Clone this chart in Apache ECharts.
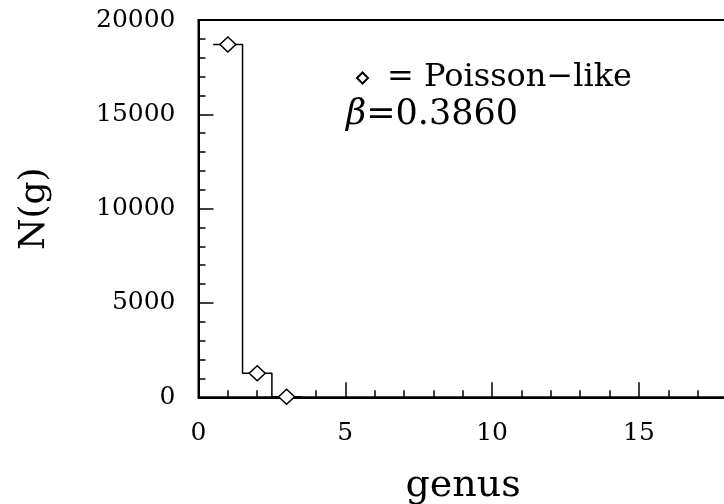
<!DOCTYPE html>
<html>
<head>
<meta charset="utf-8">
<script src="https://cdn.jsdelivr.net/npm/echarts@6/dist/echarts.min.js"></script>
<style>
  html, body { margin: 0; padding: 0; background: #fff; }
  #chart { width: 724px; height: 504px; }
</style>
</head>
<body>
<div id="chart"></div>
<script>
// genus number and how many objects have it
const genus = [1, 2, 3];
const counts = [18700, 1270, 30];
const binHalf = 0.5;
const xRange = [0, 20];
const yRange = [0, 20000];
const legendName = 'Poisson−like';
const betaValue = '0.3860';

const font = 'DejaVu Serif';
const ink = '#000';

const myechart = echarts.init(document.getElementById('chart'));

// histogram outline: one point per bin edge, drawn as steps
let steps = [];
for (let i = 0; i < genus.length; i++) {
  steps.push([genus[i] - binHalf, counts[i]]);
}
steps.push([genus[genus.length - 1] + binHalf, counts[counts.length - 1]]);

let points = genus.map((g, i) => [g, counts[i]]);

let option = {
  animation: false,
  backgroundColor: '#fff',
  grid: {
    left: 198.5,
    top: 20,
    right: -61.7,
    bottom: 106.7,
    outerBoundsMode: 'none',
    show: true,
    borderColor: ink,
    borderWidth: 2
  },
  legend: {
    left: 351,
    top: 57,
    icon: 'diamond',
    itemWidth: 11,
    itemHeight: 11,
    formatter: '= {name}',
    textStyle: { fontFamily: font, fontSize: 32, color: ink, padding: [0, 0, 0, 14] },
    data: [legendName]
  },
  graphic: [{
    type: 'text',
    left: 346,
    top: 97,
    style: {
      text: '{b|β}=' + betaValue,
      fontFamily: font,
      fontSize: 35,
      fill: ink,
      rich: { b: { fontFamily: font, fontSize: 35, fontStyle: 'italic', fill: ink } }
    }
  }],
  xAxis: {
    type: 'value',
    min: xRange[0],
    max: xRange[1],
    interval: 5,
    name: 'genus',
    nameLocation: 'middle',
    nameGap: 70,
    nameTextStyle: { fontFamily: font, fontSize: 38, color: ink, padding: [0, 58, 0, 0] },
    axisLine: { lineStyle: { color: ink, width: 2 } },
    axisTick: { inside: true, length: 15, lineStyle: { color: ink, width: 1.5 } },
    minorTick: { show: true, splitNumber: 5, length: 7, lineStyle: { color: ink, width: 1.5 } },
    axisLabel: { margin: 24, fontFamily: font, fontSize: 25, color: ink, formatter: v => String(v) },
    splitLine: { show: false }
  },
  yAxis: {
    type: 'value',
    min: yRange[0],
    max: yRange[1],
    interval: 5000,
    name: 'N(g)',
    nameLocation: 'middle',
    nameGap: 146,
    nameTextStyle: { fontFamily: font, fontSize: 36, color: ink },
    axisLine: { show: true, lineStyle: { color: ink, width: 2 } },
    axisTick: { inside: true, length: 15, lineStyle: { color: ink, width: 1.5 } },
    minorTick: { show: true, splitNumber: 5, length: 7, lineStyle: { color: ink, width: 1.5 } },
    axisLabel: { margin: 23, fontFamily: font, fontSize: 25, color: ink, formatter: v => String(v) },
    splitLine: { show: false }
  },
  series: [
    {
      name: 'histogram',
      type: 'line',
      step: 'end',
      data: steps,
      symbol: 'none',
      lineStyle: { color: ink, width: 1.5 },
      z: 2
    },
    {
      name: legendName,
      type: 'scatter',
      data: points,
      symbol: 'diamond',
      symbolSize: [16, 15],
      itemStyle: { color: '#fff', borderColor: ink, borderWidth: 1.5, opacity: 1 },
      z: 3
    }
  ]
};
myechart.setOption(option);
</script>
</body>
</html>
